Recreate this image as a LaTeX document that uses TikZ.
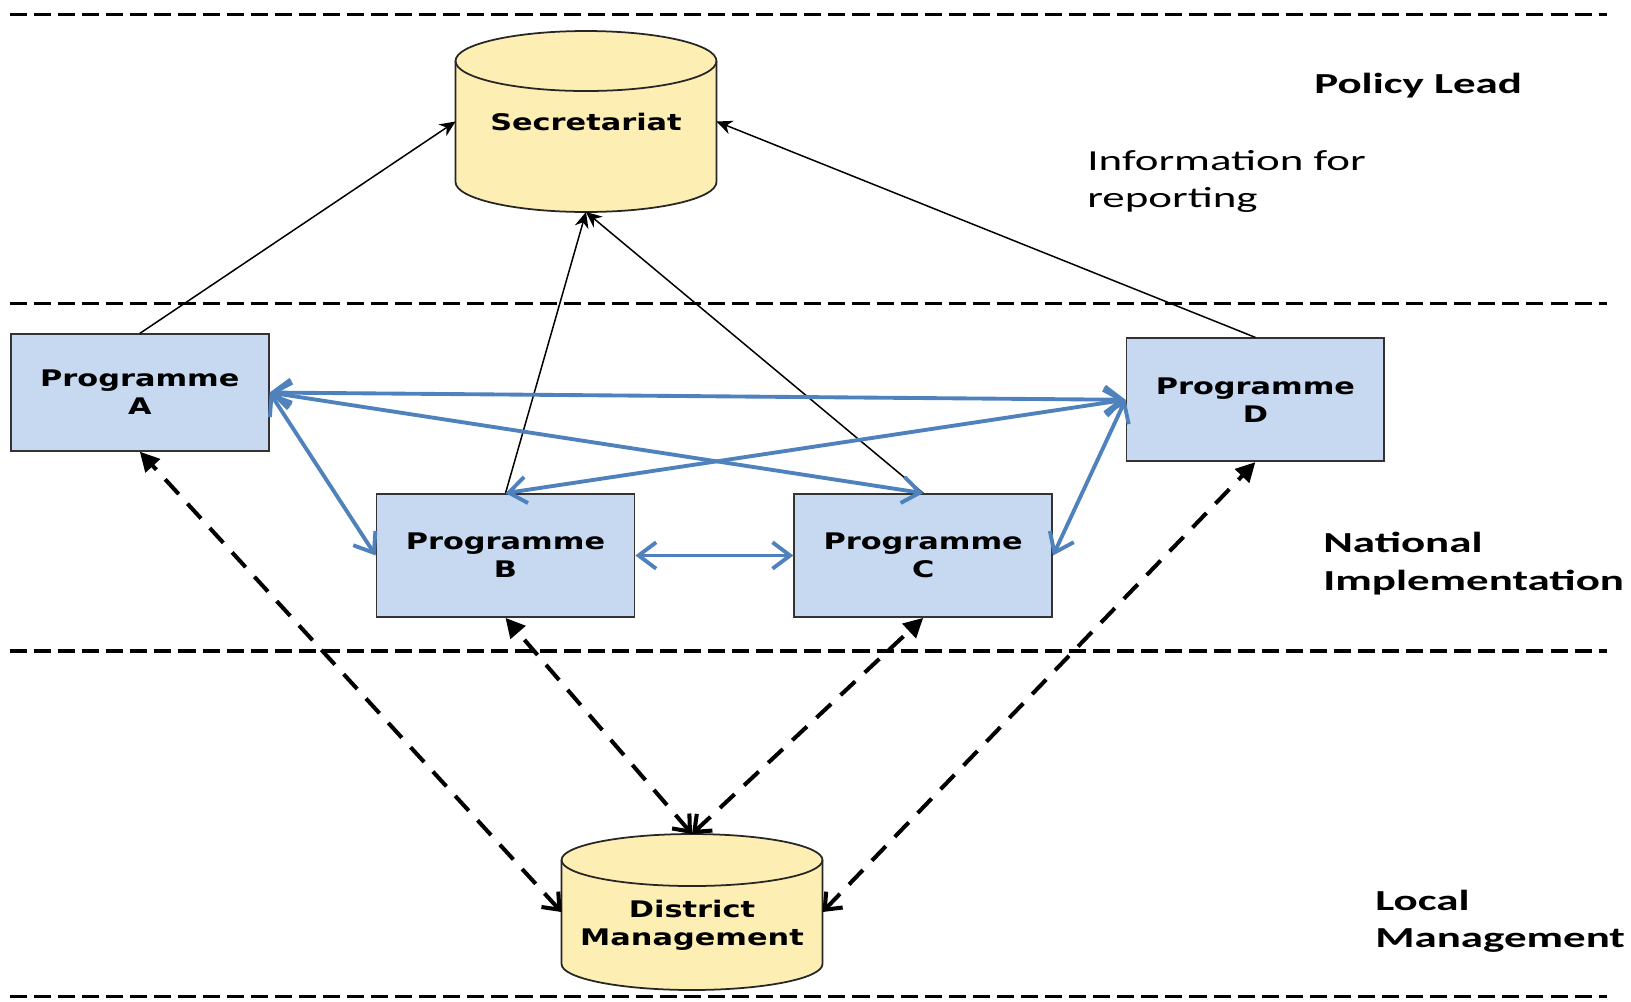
\documentclass[tikz,border=0pt]{standalone}
\usepackage{fontspec}
\setmainfont{DejaVu Sans}[FakeStretch=1.33]
\newfontfamily\sidefont{Carlito}[FakeStretch=1.55]
\usetikzlibrary{positioning,arrows.meta,backgrounds}
\definecolor{drumyellow}{RGB}{253,239,180}
\definecolor{boxblue}{RGB}{198,217,241}
\definecolor{linkblue}{RGB}{79,129,189}
% cylinder drawn round a named node: node, x radius, y radius
\newcommand\drumoutline[3]{%
    \draw[drumline] ([yshift=-#3]#1.north west) -- ([yshift=#3]#1.south west)
        arc[start angle=180, end angle=360, x radius=#2, y radius=#3]
        -- ([yshift=-#3]#1.north east)
        arc[start angle=0, end angle=180, x radius=#2, y radius=#3] -- cycle;
    \draw[drumline, fill=none] ([yshift=-#3]#1.north west)
        arc[start angle=180, end angle=360, x radius=#2, y radius=#3];
}

\begin{document}
\begin{tikzpicture}[x=0.02cm, y=-0.02cm] %Flux de rapportage
    \tikzstyle{progbox} = [rectangle, draw=black!80, line width=1pt, fill=boxblue, minimum width=5.16cm, minimum height=2.46cm, text centered, align=center, font=\fontsize{13}{15.9}\selectfont\bfseries]
    \tikzstyle{drum} = [rectangle, outer sep=0pt, minimum width=5.22cm, text centered, align=center, font=\fontsize{13}{15.9}\selectfont\bfseries]
    \tikzstyle{drumline} = [draw=black!85, line width=1pt, fill=drumyellow]
    \tikzstyle{layer} = [anchor=west, align=left, inner sep=0pt, font=\sidefont\fontsize{16.5}{21.3}\selectfont]
    \tikzstyle{boldlayer} = [layer, font=\sidefont\bfseries\fontsize{16.5}{21.3}\selectfont]
    \tikzstyle{sepline} = [line width=2pt, dash pattern=on 9.7pt off 4pt]
    \tikzstyle{report} = [line width=0.85pt, -{Stealth[length=9pt,width=8pt]}]
    \tikzstyle{link} = [draw=linkblue, line width=2.2pt, {Straight Barb[length=10pt,width=15pt]}-{Straight Barb[length=10pt,width=15pt]}]
    \tikzstyle{feed} = [line width=2.3pt, dash pattern=on 11.4pt off 7.4pt, {Straight Barb[length=8pt,width=13pt]}-{Triangle[length=11pt,width=11pt]}]
    \useasboundingbox (0,0) rectangle (1631,1001);
    \foreach \y in {14.6,303.7,651,996.5}
    {
        \draw[sepline] (10,\y) -- (1607,\y);
    }
    \node[drum, minimum height=3.62cm] (S) at (586,121.5) {Secretariat};
    \node[progbox] (PB) at (505.5,555.5) {Programme\\B};
    \node[progbox, right=3.16cm of PB] (PC) {Programme\\C};
    \node[progbox, minimum height=2.33cm, above left=0.83cm and 2.12cm of PB] (PA) {Programme\\A};
    \node[progbox, above right=0.62cm and 1.45cm of PC] (PD) {Programme\\D};
    \node[drum, minimum height=3.12cm] (DM) at (692,912) {};
    \node[drum] (DMt) at (692,925.5) {District\\Management};
    \begin{pgfonlayer}{background}
        \drumoutline{S}{2.61cm}{0.6cm}
        \drumoutline{DM}{2.61cm}{0.52cm}
    \end{pgfonlayer}
    \node[boldlayer] (L1) at (1314,85.5) {Policy Lead};
    \node[layer] (L2) at (1087,181.5) {Information for\\reporting};
    \node[boldlayer] (L3) at (1323,563.5) {National\\Implementation};
    \node[boldlayer] (L4) at (1375,921.5) {Local\\Management};
    \draw[report] (PA.north) -- (S.west);
    \draw[report] (PB.north) -- (S.south);
    \draw[report] (PC.north) -- (S.south);
    \draw[report] (PD.north) -- (S.east);
    \foreach \s/\t in {PA.east/PD.west, PA.east/PB.west, PA.east/PC.north, PB.north/PD.west, PB.east/PC.west, PC.east/PD.west}
    {
        \draw[link] (\s) -- (\t);
    }
    \draw[feed] (DM.west) -- (PA.south);
    \draw[feed] (DM.north) -- (PB.south);
    \draw[feed] (DM.north) -- (PC.south);
    \draw[feed] (DM.east) -- (PD.south);
\end{tikzpicture}
\end{document}
